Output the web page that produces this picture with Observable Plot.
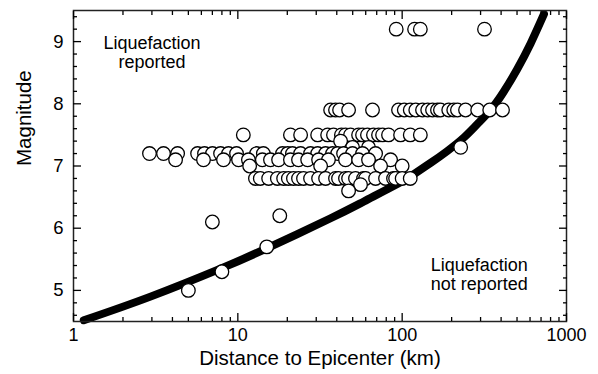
<!DOCTYPE html>
<html><head><meta charset="utf-8">
<script src="https://cdn.jsdelivr.net/npm/d3@7"></script>
<script src="https://cdn.jsdelivr.net/npm/@observablehq/plot@0.6"></script>
<style>body{margin:0;background:#fff}</style>
</head><body><div id="chart"></div>
<script>
// Distances (km) of liquefaction reports, grouped by magnitude
const mag92 = [92, 119, 129, 317];
const mag79 = [36.7, 39.3, 41.6, 47.2, 66, 95, 103, 112, 121, 133, 143, 153, 164, 171, 192, 206, 217, 243, 288, 341, 408];
const mag75 = [10.8, 20.9, 24.1, 30.6, 35.2, 38.2, 42.7, 45.2, 48.5, 54.3, 57.4, 61.5, 66.9, 71.8, 76, 82.6, 97.8, 112, 129];
const mag74 = [42.2];
const mag73 = [49.9, 62.4, 227];
const mag72 = [2.9, 3.53, 4.3, 5.69, 6.27, 7.01, 7.85, 8.78, 9.82, 13, 14.3, 18.7, 20.1, 21.5, 24.1, 27.7, 30.6, 34.2, 37.7, 40.5, 44, 49.9, 57.4, 68.9];
const mag71 = [4.18, 6.18, 8.18, 10.1, 11.6, 14.1, 15.8, 17.7, 20.9, 23.4, 26.6, 31, 35.6, 45.2, 54.3, 62.4, 85];
const mag70 = [11.8, 31.9, 73.9, 100];
const mag68 = [12.8, 13.7, 15.4, 17.4, 19, 20.3, 21.8, 23.4, 25.1, 27.7, 31, 34.2, 39.3, 41, 45.2, 47.2, 52, 58.2, 59.9, 68.9, 79.2, 88.6, 91.2, 100, 112];
const mag67 = [55.8];
const mag66 = [47.2];
const mag62 = [18];
const mag61 = [7];
const mag57 = [15];
const mag53 = [8];
const mag50 = [5];

// Bound curve
const curveD = [1.155, 2.94, 7.85, 15.1, 36.7, 58.5, 93.4, 118, 149, 188, 238, 286, 345, 414, 502, 605, 729];
const curveM = [4.52, 4.90, 5.35, 5.68, 6.16, 6.43, 6.71, 6.87, 7.05, 7.24, 7.46, 7.67, 7.90, 8.19, 8.56, 8.97, 9.44];

// Ticks
const xMajor = [1, 10, 100, 1000];
const xTickLabels = ["1", "10", "100", "1000"];
const xMinor = [2,3,4,5,6,7,8,9,20,30,40,50,60,70,80,90,200,300,400,500,600,700,800,900];
const yMajor = [5, 6, 7, 8, 9];
const yTickLabels = ["5", "6", "7", "8", "9"];
const yMinor = [4.6,4.8,5.2,5.4,5.6,5.8,6.2,6.4,6.6,6.8,7.2,7.4,7.6,7.8,8.2,8.4,8.6,8.8,9.2,9.4];

const groups = [[9.2,mag92],[7.9,mag79],[7.5,mag75],[7.4,mag74],[7.3,mag73],[7.2,mag72],[7.1,mag71],[7.0,mag70],[6.8,mag68],[6.7,mag67],[6.6,mag66],[6.2,mag62],[6.1,mag61],[5.7,mag57],[5.3,mag53],[5.0,mag50]];
const points = [];
for (const [m, arr] of groups) for (const d of arr) points.push({d, m});
const curve = curveD.map((d, i) => ({d, m: curveM[i]}));

const tickAxes = [];
for (const anchor of ["bottom", "top"]) {
  tickAxes.push(Plot.axisX({anchor, ticks: xMajor, tickSize: -8, fill: "none", label: null, strokeWidth: 1.3}));
  tickAxes.push(Plot.axisX({anchor, ticks: xMinor, tickSize: -4, fill: "none", label: null, strokeWidth: 1.3}));
}
for (const anchor of ["left", "right"]) {
  tickAxes.push(Plot.axisY({anchor, ticks: yMajor, tickSize: -8, fill: "none", label: null, strokeWidth: 1.3}));
  tickAxes.push(Plot.axisY({anchor, ticks: yMinor, tickSize: -4, fill: "none", label: null, strokeWidth: 1.3}));
}

const chart = Plot.plot({
  width: 598, height: 374,
  marginLeft: 73, marginRight: 32, marginTop: 10, marginBottom: 53,
  x: {type: "log", domain: [1, 1000]},
  y: {domain: [4.5, 9.5]},
  style: {fontFamily: "'Liberation Sans', Arial, Helvetica, sans-serif", background: "white", color: "black"},
  marks: [
    Plot.line(curve, {x: "d", y: "m", stroke: "black", strokeWidth: 8, curve: "natural", strokeLinecap: "round"}),
    Plot.dot(points, {x: "d", y: "m", r: 6.8, fill: "white", stroke: "black", strokeWidth: 1.3}),
    Plot.frame({stroke: "#222", strokeWidth: 1.5}),
    ...tickAxes,
    Plot.axisX({anchor: "bottom", ticks: xMajor, tickFormat: d => xTickLabels[xMajor.indexOf(d)], tickSize: 0, tickPadding: 7, fontSize: 18, label: null}),
    Plot.axisY({anchor: "left", ticks: yMajor, tickFormat: d => yTickLabels[yMajor.indexOf(d)], tickSize: 0, tickPadding: 10, fontSize: 18.5, label: null}),
    Plot.text(["Magnitude"], {frameAnchor: "left", dx: -49, rotate: -90, fontSize: 20.5}),
    Plot.text(["Distance to Epicenter (km)"], {frameAnchor: "bottom", dy: 43, fontSize: 20.5}),
    Plot.text(["Liquefaction\nreported"], {x: 3, y: 8.825, fontSize: 18, lineHeight: 1.07, textAnchor: "middle"}),
    Plot.text(["Liquefaction\nnot reported"], {x: 149, y: 5.256, fontSize: 18, lineHeight: 1.02, textAnchor: "start"})
  ]
});
document.getElementById("chart").append(chart);
</script>
</body></html>
